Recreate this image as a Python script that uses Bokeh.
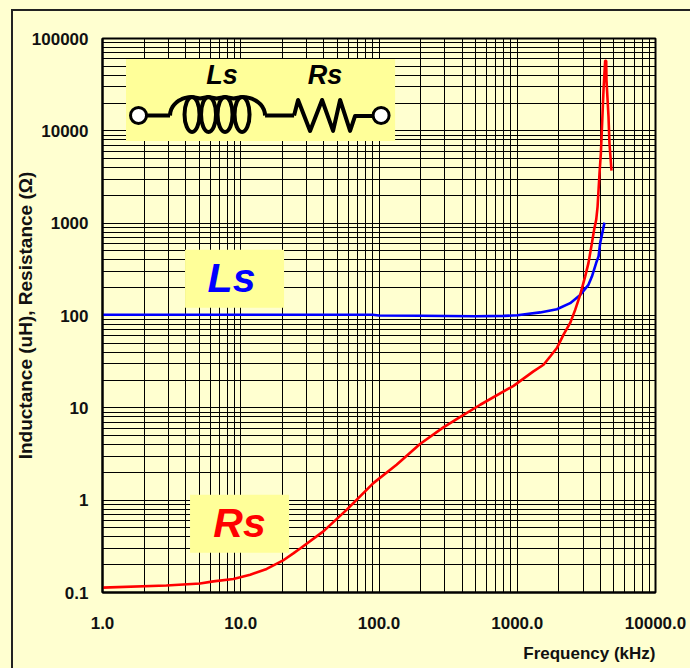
import math
from bokeh.plotting import figure
from bokeh.embed import file_html
from bokeh.models import Title
from bokeh.resources import INLINE
from bokeh.core.properties import value

# --- chart data ---
ls_freq = [1, 3, 10, 30, 90, 100, 200, 500, 800, 1000, 1465, 1935, 2415, 2852, 3273, 3467, 3724, 3872, 3981, 4276]
ls_val = [101.8, 101.8, 101.8, 101.8, 101.8, 100, 99.5, 98, 99, 100.5, 108, 117, 136, 167, 215, 264, 372, 435, 612, 1014]

rs_freq = [1, 2.9, 5.07, 6.34, 8.84, 11.7, 15.4, 20.1, 24, 26.9, 39.6, 58.5, 91, 134, 198, 292, 398, 540, 940, 1309,
           1549, 1730, 1935, 2161, 2415, 2624, 2852, 3097, 3273, 3467, 3597, 3724, 3811, 3936, 4027, 4093, 4207, 4325,
           4399, 4420, 4571, 4645, 4805]
rs_val = [0.113, 0.119, 0.125, 0.132, 0.140, 0.156, 0.18, 0.221, 0.265, 0.30, 0.459, 0.79, 1.53, 2.42, 4.06, 6.14, 8.2,
          10.8, 17.3, 24.8, 29.3, 36, 44.4, 62, 83, 115, 167, 264, 369, 607, 846, 1086, 1514, 3475, 5715, 10230, 27700,
          57500, 57500, 35500, 14250, 7340, 3710]

x_ticks = [1, 10, 100, 1000, 10000]
x_labels = ["1.0", "10.0", "100.0", "1000.0", "10000.0"]
y_ticks = [0.1, 1, 10, 100, 1000, 10000, 100000]
y_labels = ["0.1", "1", "10", "100", "1000", "10000", "100000"]

BG = "#FFFFD0"
BOX = "#FFFF99"
FONT = "Liberation Sans"

# window pixel -> data helpers, for the schematic decoration only
def fx(px):
    return 10 ** ((px - 102.5) / 138.2)
def fy(py):
    return 10 ** ((500.5 - py) / 92.4)

p = figure(width=690, height=673, x_axis_type="log", y_axis_type="log",
           x_range=(1, 10000), y_range=(0.1, 100000),
           output_backend="svg", toolbar_location=None,
           background_fill_color=BG, border_fill_color=BG,
           min_border_left=102, min_border_right=35, min_border_top=38, min_border_bottom=81,
           outline_line_color="black", outline_line_width=2)

for g in (p.xgrid, p.ygrid):
    g.grid_line_color = "black"
    g.grid_line_width = 1
    g.minor_grid_line_color = "black"
    g.minor_grid_line_width = 1

for ax, ticks, labels in ((p.xaxis, x_ticks, x_labels), (p.yaxis, y_ticks, y_labels)):
    ax.major_tick_line_color = None
    ax.minor_tick_line_color = None
    ax.axis_line_color = "black"
    ax.axis_line_width = 2
    ax.major_label_overrides = dict(zip(ticks, labels))
    ax.major_label_text_font = FONT
    ax.major_label_text_font_style = "bold"
    ax.major_label_text_font_size = "17px"
    ax.major_label_text_color = "#111111"
    ax.axis_label_text_font = FONT
    ax.axis_label_text_font_style = "bold"
    ax.axis_label_text_font_size = "19px"
    ax.axis_label_text_color = "#111111"

p.yaxis.major_label_standoff = 8
p.xaxis.major_label_standoff = 18
p.yaxis.major_label_orientation = "horizontal"
p.yaxis.axis_label = "Inductance (uH), Resistance (\u03a9)"
p.yaxis.axis_label_standoff = -7

p.add_layout(Title(text="Frequency (kHz)", align="right", text_font=FONT, text_font_style="bold",
                   text_font_size="17px", text_color="#111111", standoff=21), "below")

# yellow panels
panels = [(126, 395, 59, 141), (185, 284, 250, 308), (190, 289, 495, 553)]
p.quad(left=[fx(a[0]) for a in panels], right=[fx(a[1]) for a in panels],
       top=[fy(a[2]) for a in panels], bottom=[fy(a[3]) for a in panels],
       fill_color=BOX, line_color=None)

# curves
p.line(ls_freq, ls_val, line_color="#0000FF", line_width=2.6)
p.line(rs_freq, rs_val, line_color="#FF0000", line_width=2.6)

# big labels
p.text([fx(231.5)], [fy(278)], text=["Ls"], text_color="#0000FF", text_font=value(FONT),
       text_font_style="bold italic", text_font_size="41px", text_align="center", text_baseline="middle")
p.text([fx(239.5)], [fy(523)], text=["Rs"], text_color="#FF0000", text_font=value(FONT),
       text_font_style="bold italic", text_font_size="41px", text_align="center", text_baseline="middle")
p.text([fx(222), fx(325)], [fy(75), fy(75)], text=["Ls", "Rs"], text_color="black", text_font=value(FONT),
       text_font_style="bold italic", text_font_size="27px", text_align="center", text_baseline="middle")

# schematic: wires, coil and resistor
def path(pts, w=4):
    p.line([fx(a) for a, _ in pts], [fy(b) for _, b in pts], line_color="black", line_width=w, line_join="round")

path([(146, 115.5), (170, 115.5)])
arch_l = [(170 + 22 * (1 - math.cos(t * math.pi / 20)), 115.5 - 18.5 * math.sin(t * math.pi / 20)) for t in range(11)]
path(arch_l)
arch_r = [(265 - 23 * (1 - math.cos(t * math.pi / 20)), 115.5 - 18.5 * math.sin(t * math.pi / 20)) for t in range(11)]
path(arch_r)
path([(192, 97), (200, 98.5), (208, 97), (216.5, 98.5), (225, 97), (233.5, 98.5), (242, 97)])
p.ellipse([fx(v) for v in (192, 208.5, 225, 242)], [fy(114.5)] * 4, width=15, height=35,
          width_units="screen", height_units="screen", fill_color=None, line_color="black", line_width=4)
path([(265, 115.5), (294, 115.5)])
path([(294, 115.5), (298, 100), (310, 131), (322, 100), (333, 131), (340, 100), (350, 131), (355, 116), (375, 116)])

p.scatter([fx(138.5), fx(381)], [fy(115.5), fy(115.5)], size=16, marker="circle",
          fill_color="white", line_color="black", line_width=3)

# outer border of the chart area, which runs off the window at right and bottom
css = ("<style>html,body{background:%s;overflow:hidden;}"
       "body::before{content:'';position:fixed;left:11px;top:9px;right:-9px;bottom:-9px;"
       "border:2px solid #222;pointer-events:none;z-index:5}</style></head>" % BG)
open("out.html", "w").write(file_html(p, INLINE).replace("</head>", css, 1))
